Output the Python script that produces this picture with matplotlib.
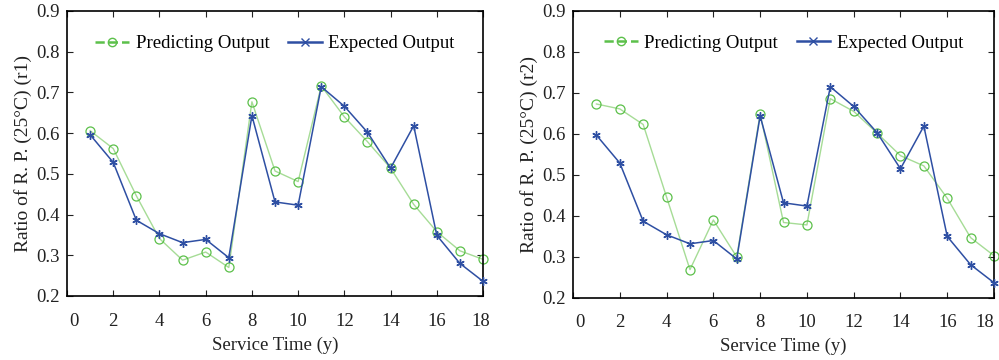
#Recreate the R.P. ratio comparison (r1 / r2) vs service time

import numpy as np
import matplotlib.pyplot as plt
import matplotlib.transforms as mtrans
from matplotlib.lines import Line2D

plt.rcParams['font.family'] = ['Liberation Serif', 'DejaVu Serif']

years = np.arange(1, 19)

pred_r1 = [0.606, 0.562, 0.446, 0.341, 0.288, 0.308, 0.270, 0.677, 0.507,
           0.481, 0.716, 0.640, 0.579, 0.514, 0.425, 0.358, 0.311, 0.290]
pred_r2 = [0.672, 0.660, 0.622, 0.445, 0.268, 0.389, 0.299, 0.648, 0.383,
           0.377, 0.685, 0.654, 0.601, 0.546, 0.521, 0.442, 0.346, 0.302]
expected = [0.596, 0.528, 0.386, 0.353, 0.331, 0.339, 0.294, 0.643, 0.431,
            0.423, 0.714, 0.666, 0.602, 0.514, 0.618, 0.349, 0.280, 0.236]

ylabels = ['Ratio of R. P. (25\u00b0C) (r1)', 'Ratio of R. P. (25\u00b0C) (r2)']

green_line = '#a6dc96'
green_mk = '#5cc04a'
blue = '#2e4fa3'
fs = 13.5

fig = plt.figure(figsize=(9.99, 3.6), dpi=100)
boxes = [[0.0671, 0.1778, 0.4164, 0.7917], [0.5736, 0.1736, 0.4214, 0.7972]]
end_shift = [-2, -9]

for box, pred, ylab, shift in zip(boxes, [pred_r1, pred_r2], ylabels, end_shift):
	ax = fig.add_axes(box)
	ax.plot(years, pred, color=green_line, lw=1.0, marker='o', ms=6.5,
		mfc='none', mec=green_mk, mew=0.9, zorder=2, clip_on=False)
	ax.plot(years, expected, color=blue, lw=1.1, marker=(6, 2, 0), ms=6,
		mec=blue, mew=1.0, zorder=3, clip_on=False)
	ax.set_xlim(0, 18)
	ax.set_ylim(0.2, 0.9)
	ax.set_xticks(range(0, 19, 2))
	ax.set_yticks(np.arange(0.2, 0.91, 0.1))
	ax.set_yticklabels(['%.1f' % v for v in np.arange(0.2, 0.91, 0.1)])
	ax.tick_params(direction='in', top=True, right=True, length=4,
		labelsize=fs, colors='#222222')
	ax.tick_params(axis='x', pad=12)
	ax.tick_params(axis='y', pad=5)
	# nudge the end labels inward like the original
	xlabs = ax.get_xticklabels()
	xlabs[0].set_transform(xlabs[0].get_transform() + mtrans.Affine2D().translate(7, 0))
	xlabs[-1].set_transform(xlabs[-1].get_transform() + mtrans.Affine2D().translate(shift, 0))
	for s in ax.spines.values():
		s.set_linewidth(1.2)
	ax.set_xlabel('Service Time (y)', fontsize=fs, color='#222222', labelpad=5)
	ax.set_ylabel(ylab, fontsize=fs + 0.5, color='#222222', labelpad=3)
	handles = [Line2D([], [], color=green_mk, lw=1.8, marker='o', ms=6,
			mfc='none', mec=green_mk, ls='--'),
		Line2D([], [], color=blue, lw=1.8, marker='x', ms=6, mec=blue)]
	ax.legend(handles, ['Predicting Output', 'Expected Output'], ncol=2,
		loc='upper center', frameon=False, fontsize=fs, handlelength=1.8,
		columnspacing=1.0, handletextpad=0.35, bbox_to_anchor=(0.5, 0.975))

plt.savefig('out.png', dpi=100)
